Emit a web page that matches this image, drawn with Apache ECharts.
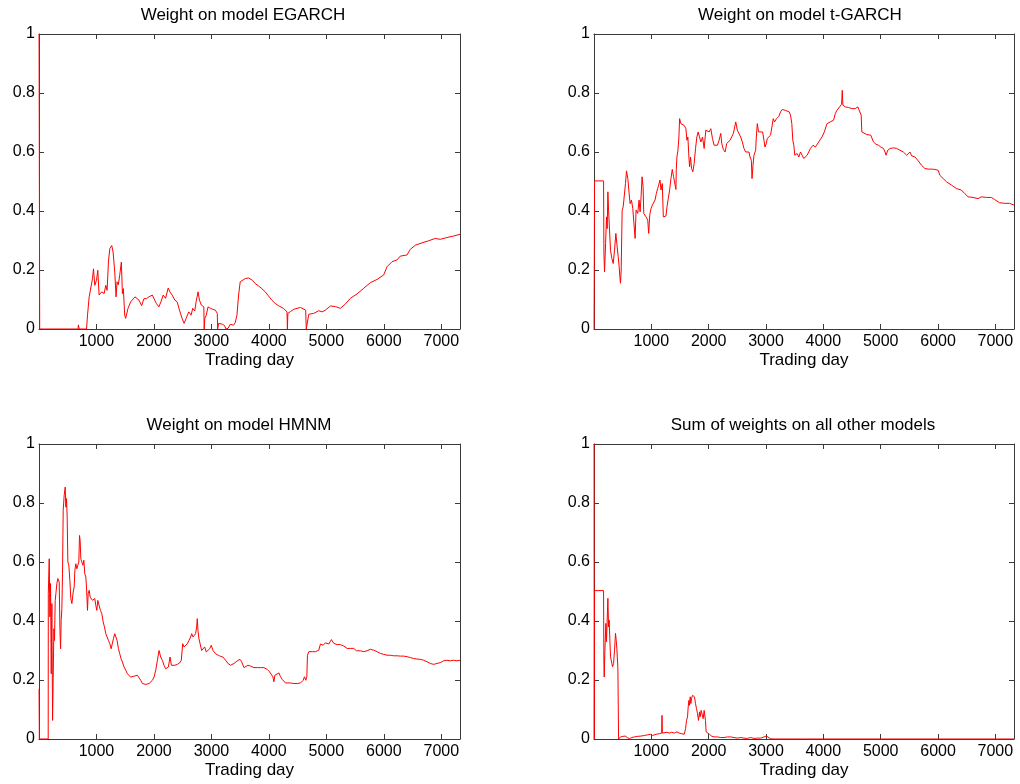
<!DOCTYPE html>
<html>
<head>
<meta charset="utf-8">
<script src="https://cdn.jsdelivr.net/npm/echarts@6/dist/echarts.min.js"></script>
<style>
  html, body { margin: 0; padding: 0; background: #ffffff; }
  #chart { width: 1020px; height: 784px; }
</style>
</head>
<body>
<div id="chart"></div>
<script>
// Panel titles and shared axis text
const panelTitles = [
  'Weight on model EGARCH',
  'Weight on model t-GARCH',
  'Weight on model HMNM',
  'Sum of weights on all other models'
];
const xAxisName = 'Trading day';
const lastDay = 7325;
const xTickStep = 1000;
const yTickStep = 0.2;

// Model weights as [trading day, weight]
const egarchWeight = [
  [1,1],[12,0],[680,0],[685,0.014],[695,0.014],[700,0],[827,0],[844,0.047],[873,0.109],[890,0.103],
  [931,0.171],[948,0.204],[971,0.148],[1000,0.165],[1023,0.199],[1046,0.115],[1092,0.126],[1133,0.12],
  [1162,0.148],[1185,0.131],[1208,0.227],[1231,0.272],[1266,0.283],[1289,0.261],[1318,0.193],[1341,0.109],
  [1358,0.16],[1380,0.15],[1404,0.182],[1433,0.227],[1451,0.12],[1468,0.137],[1491,0.047],[1508,0.036],
  [1549,0.07],[1595,0.092],[1670,0.109],[1739,0.098],[1786,0.079],[1826,0.103],[1872,0.103],[1913,0.109],
  [1971,0.115],[2000,0.109],[2040,0.087],[2086,0.075],[2121,0.092],[2161,0.115],[2202,0.104],[2248,0.139],
  [2277,0.126],[2317,0.115],[2363,0.098],[2404,0.092],[2444,0.064],[2490,0.036],[2525,0.019],[2560,0.036],
  [2606,0.058],[2646,0.047],[2675,0.07],[2710,0.061],[2733,0.092],[2768,0.126],[2791,0.098],[2825,0.081],
  [2868,0.075],[2874,0],[2885,0.036],[2910,0.047],[2941,0.075],[2982,0.07],[3022,0.067],[3068,0.064],
  [3102,0.053],[3108,0],[3126,0.019],[3160,0.016],[3195,0.016],[3230,0.011],[3253,0],[3288,0.002],
  [3328,0.016],[3357,0.022],[3386,0.013],[3415,0.022],[3444,0.047],[3473,0.115],[3501,0.16],[3530,0.165],
  [3588,0.171],[3646,0.173],[3675,0.174],[3715,0.165],[3761,0.154],[3819,0.146],[3877,0.137],[3935,0.126],
  [3993,0.112],[4050,0.098],[4108,0.087],[4166,0.079],[4253,0.07],[4315,0.058],[4322,0],[4330,0.053],
  [4375,0.059],[4433,0.067],[4549,0.073],[4640,0.064],[4650,0],[4665,0],[4694,0.05],[4780,0.053],
  [4868,0.062],[4925,0.058],[4984,0.064],[5070,0.078],[5157,0.076],[5244,0.07],[5331,0.085],[5418,0.104],
  [5534,0.119],[5650,0.138],[5765,0.157],[5881,0.168],[5997,0.183],[6055,0.211],[6142,0.228],[6228,0.234],
  [6286,0.247],[6402,0.251],[6460,0.27],[6547,0.284],[6663,0.292],[6779,0.299],[6894,0.307],[6981,0.304],
  [7097,0.31],[7213,0.315],[7325,0.321]
];

const tgarchWeight = [
  [1,0],[10,0.502],[167,0.502],[173,0.256],[184,0.194],[202,0.29],[219,0.38],[230,0.34],[242,0.465],
  [254,0.403],[271,0.335],[288,0.267],[312,0.239],[335,0.222],[358,0.267],[381,0.324],[404,0.279],
  [422,0.245],[439,0.211],[451,0.177],[462,0.155],[474,0.2],[491,0.403],[509,0.414],[532,0.42],[549,0.493],
  [567,0.536],[590,0.51],[613,0.459],[630,0.425],[653,0.437],[676,0.409],[700,0.403],[717,0.307],[734,0.403],
  [763,0.392],[786,0.437],[804,0.397],[821,0.448],[838,0.516],[856,0.482],[868,0.392],[890,0.386],[908,0.38],
  [937,0.369],[954,0.324],[972,0.386],[995,0.409],[1018,0.42],[1041,0.425],[1064,0.437],[1087,0.459],
  [1110,0.476],[1128,0.488],[1151,0.505],[1168,0.471],[1191,0.493],[1209,0.38],[1232,0.375],[1255,0.383],
  [1273,0.414],[1296,0.443],[1319,0.471],[1342,0.51],[1365,0.541],[1388,0.516],[1412,0.516],[1429,0.473],
  [1435,0.54],[1446,0.583],[1464,0.606],[1481,0.651],[1493,0.713],[1516,0.696],[1545,0.696],[1574,0.69],
  [1603,0.679],[1620,0.64],[1637,0.651],[1655,0.583],[1667,0.55],[1684,0.583],[1701,0.544],[1724,0.533],
  [1747,0.561],[1771,0.612],[1794,0.651],[1817,0.668],[1840,0.651],[1864,0.634],[1893,0.651],[1921,0.612],
  [1950,0.674],[1979,0.679],[2008,0.668],[2037,0.679],[2066,0.646],[2095,0.623],[2124,0.629],[2153,0.623],
  [2182,0.64],[2211,0.663],[2228,0.629],[2257,0.608],[2286,0.6],[2315,0.629],[2344,0.634],[2373,0.64],
  [2402,0.646],[2431,0.663],[2454,0.685],[2472,0.702],[2500,0.674],[2529,0.668],[2558,0.651],[2587,0.634],
  [2616,0.612],[2645,0.6],[2674,0.606],[2703,0.6],[2721,0.583],[2744,0.572],[2756,0.51],[2773,0.555],
  [2790,0.589],[2819,0.606],[2831,0.651],[2848,0.696],[2871,0.668],[2900,0.663],[2941,0.668],[2964,0.64],
  [2982,0.617],[3005,0.629],[3022,0.646],[3051,0.64],[3079,0.657],[3108,0.691],[3126,0.713],[3149,0.702],
  [3183,0.713],[3224,0.721],[3253,0.736],[3282,0.744],[3311,0.747],[3340,0.741],[3369,0.739],[3404,0.736],
  [3427,0.725],[3450,0.696],[3467,0.64],[3485,0.623],[3502,0.589],[3520,0.583],[3543,0.595],[3572,0.583],
  [3601,0.6],[3630,0.595],[3659,0.578],[3688,0.572],[3717,0.589],[3774,0.612],[3820,0.623],[3861,0.617],
  [3918,0.634],[3976,0.651],[4017,0.668],[4063,0.696],[4121,0.702],[4179,0.708],[4208,0.73],[4237,0.741],
  [4283,0.753],[4318,0.762],[4330,0.809],[4341,0.759],[4382,0.753],[4440,0.751],[4497,0.747],[4555,0.747],
  [4602,0.753],[4619,0.744],[4642,0.741],[4660,0.725],[4671,0.668],[4700,0.663],[4758,0.659],[4827,0.657],
  [4874,0.634],[4920,0.626],[4961,0.623],[5001,0.617],[5048,0.612],[5076,0.6],[5094,0.589],[5123,0.606],
  [5163,0.612],[5221,0.614],[5279,0.612],[5337,0.606],[5395,0.6],[5453,0.589],[5511,0.6],[5540,0.587],
  [5598,0.583],[5655,0.57],[5713,0.555],[5771,0.544],[5829,0.542],[5887,0.542],[5945,0.541],[6003,0.538],
  [6032,0.521],[6090,0.51],[6148,0.499],[6234,0.488],[6321,0.476],[6408,0.471],[6466,0.459],[6524,0.448],
  [6611,0.446],[6698,0.442],[6756,0.448],[6842,0.446],[6929,0.446],[6987,0.439],[7074,0.428],[7161,0.426],
  [7248,0.426],[7325,0.42]
];

const hmnmWeight = [
  [1,0.17],[6,0],[160,0],[162,0.493],[178,0.611],[189,0.414],[201,0.527],[213,0.221],[224,0.459],
  [236,0.063],[247,0.21],[259,0.374],[270,0.334],[282,0.47],[294,0.493],[311,0.527],[328,0.544],
  [352,0.532],[363,0.38],[375,0.306],[386,0.402],[398,0.442],[409,0.56],[421,0.775],[438,0.826],
  [456,0.854],[467,0.786],[479,0.815],[490,0.753],[502,0.6],[519,0.589],[537,0.538],[554,0.476],
  [572,0.459],[595,0.498],[612,0.515],[624,0.572],[641,0.594],[658,0.577],[676,0.589],[693,0.6],
  [705,0.69],[716,0.673],[728,0.611],[745,0.606],[763,0.589],[780,0.606],[797,0.56],[815,0.549],
  [826,0.515],[844,0.436],[855,0.493],[873,0.504],[890,0.481],[908,0.476],[931,0.47],[954,0.464],
  [971,0.476],[988,0.453],[1006,0.436],[1023,0.47],[1046,0.464],[1069,0.436],[1093,0.425],[1116,0.397],
  [1139,0.38],[1162,0.357],[1185,0.346],[1208,0.334],[1232,0.323],[1255,0.306],[1278,0.3],[1295,0.34],
  [1318,0.357],[1336,0.363],[1359,0.334],[1382,0.306],[1405,0.289],[1428,0.272],[1452,0.261],[1481,0.244],
  [1510,0.233],[1538,0.221],[1567,0.216],[1596,0.21],[1625,0.216],[1654,0.213],[1683,0.218],[1712,0.216],
  [1741,0.21],[1770,0.199],[1799,0.188],[1828,0.184],[1857,0.185],[1886,0.184],[1915,0.188],[1944,0.19],
  [1973,0.199],[2002,0.21],[2031,0.233],[2060,0.267],[2089,0.3],[2117,0.278],[2146,0.267],[2175,0.25],
  [2204,0.238],[2222,0.244],[2251,0.244],[2280,0.278],[2303,0.25],[2332,0.255],[2366,0.25],[2407,0.253],
  [2448,0.258],[2476,0.267],[2500,0.323],[2523,0.312],[2552,0.306],[2581,0.323],[2610,0.334],[2639,0.346],
  [2656,0.357],[2679,0.346],[2702,0.34],[2725,0.357],[2743,0.38],[2754,0.408],[2766,0.368],[2783,0.34],
  [2812,0.334],[2830,0.3],[2853,0.306],[2882,0.312],[2911,0.295],[2940,0.289],[2969,0.306],[2998,0.318],
  [3027,0.3],[3073,0.289],[3119,0.284],[3160,0.28],[3200,0.278],[3247,0.267],[3293,0.255],[3334,0.25],
  [3392,0.256],[3450,0.265],[3496,0.27],[3525,0.262],[3566,0.242],[3595,0.239],[3635,0.25],[3681,0.247],
  [3739,0.242],[3797,0.242],[3855,0.242],[3913,0.242],[3971,0.236],[4011,0.228],[4040,0.222],[4069,0.211],
  [4087,0.194],[4104,0.216],[4133,0.222],[4174,0.224],[4203,0.211],[4231,0.202],[4260,0.199],[4289,0.19],
  [4318,0.186],[4376,0.19],[4434,0.188],[4492,0.188],[4550,0.19],[4596,0.199],[4619,0.211],[4643,0.199],
  [4660,0.211],[4671,0.284],[4695,0.296],[4724,0.301],[4753,0.296],[4782,0.29],[4810,0.296],[4839,0.29],
  [4868,0.301],[4897,0.322],[4944,0.318],[4984,0.326],[5013,0.324],[5042,0.322],[5088,0.337],[5129,0.324],
  [5187,0.32],[5245,0.32],[5303,0.315],[5361,0.307],[5418,0.307],[5476,0.307],[5523,0.299],[5592,0.299],
  [5650,0.296],[5708,0.299],[5766,0.304],[5824,0.301],[5882,0.296],[5940,0.29],[5997,0.287],[6055,0.284],
  [6113,0.284],[6171,0.282],[6229,0.282],[6287,0.281],[6345,0.281],[6403,0.279],[6461,0.276],[6519,0.273],
  [6576,0.271],[6634,0.27],[6692,0.267],[6750,0.262],[6808,0.256],[6866,0.253],[6924,0.256],[6982,0.259],
  [7040,0.265],[7097,0.267],[7155,0.265],[7213,0.267],[7271,0.265],[7325,0.267]
];

const otherWeight = [
  [1,1],[4,0],[10,0.503],[167,0.503],[172,0.267],[178,0.21],[190,0.3],[207,0.392],[218,0.33],[230,0.403],
  [242,0.477],[254,0.38],[265,0.403],[277,0.335],[288,0.279],[306,0.273],[323,0.245],[341,0.256],
  [358,0.301],[375,0.358],[387,0.335],[398,0.307],[416,0.245],[427,0.239],[429,0],[462,0.007],[503,0.009],
  [543,0.01],[578,0.005],[619,0.001],[659,0.005],[705,0.007],[763,0.009],[821,0.01],[879,0.012],[937,0.014],
  [983,0.016],[1024,0.012],[1082,0.016],[1140,0.018],[1180,0.02],[1186,0.08],[1192,0.02],[1226,0.022],
  [1273,0.023],[1313,0.02],[1354,0.023],[1400,0.02],[1447,0.024],[1487,0.02],[1528,0.018],[1574,0.016],
  [1597,0.035],[1614,0.063],[1631,0.075],[1643,0.109],[1655,0.131],[1666,0.114],[1678,0.143],[1689,0.12],
  [1701,0.137],[1718,0.148],[1736,0.154],[1753,0.143],[1770,0.12],[1788,0.103],[1805,0.086],[1822,0.063],
  [1840,0.092],[1851,0.075],[1869,0.097],[1886,0.092],[1904,0.069],[1921,0.097],[1933,0.103],[1944,0.063],
  [1956,0.024],[1979,0.018],[2014,0.016],[2049,0.01],[2095,0.007],[2153,0.007],[2211,0.005],[2268,0.005],
  [2326,0.007],[2384,0.007],[2442,0.005],[2500,0.003],[2558,0.005],[2616,0.003],[2674,0.002],[2732,0.005],
  [2790,0.002],[2848,0.003],[2906,0.003],[2964,0.007],[3005,0.01],[3034,0.005],[3079,0.001],[3137,0],
  [3640,0],[3650,0.004],[3660,0],[7325,0]
];

const panelSeries = [egarchWeight, tgarchWeight, hmnmWeight, otherWeight];

// Layout of the 2x2 grid (pixels)
const panelBoxes = [
  { left: 39,  top: 34,  width: 421, height: 295, titleX: 243, titleTop: 7 },
  { left: 594, top: 34,  width: 420, height: 295, titleX: 800, titleTop: 7 },
  { left: 39,  top: 444, width: 421, height: 295, titleX: 239, titleTop: 417 },
  { left: 594, top: 444, width: 420, height: 295, titleX: 803, titleTop: 417 }
];

const FONT = '"Liberation Sans", Arial, Helvetica, sans-serif';
const AXIS_COLOR = '#3a3a3a';
const LINE_COLOR = '#ff0000';

const grids = [], xAxes = [], yAxes = [], series = [], titles = [];

panelBoxes.forEach((box, i) => {
  grids.push({ left: box.left, top: box.top, width: box.width, height: box.height, containLabel: false });

  titles.push({
    text: panelTitles[i],
    left: box.titleX,
    top: box.titleTop,
    textAlign: 'center',
    padding: 0,
    textStyle: { fontFamily: FONT, fontSize: 17, fontWeight: 'normal', color: '#000' }
  });

  const baseX = {
    type: 'value', gridIndex: i, min: 0, max: lastDay, interval: xTickStep,
    splitLine: { show: false },
    axisLine: { show: true, onZero: false, lineStyle: { color: AXIS_COLOR, width: 1 } },
    axisTick: { show: true, inside: true, length: 5, lineStyle: { color: AXIS_COLOR } }
  };
  xAxes.push(Object.assign({}, baseX, {
    position: 'bottom',
    name: xAxisName, nameLocation: 'middle', nameGap: 23,
    nameTextStyle: { fontFamily: FONT, fontSize: 17, color: '#000' },
    axisLabel: {
      show: true, margin: 5, fontFamily: FONT, fontSize: 16, color: '#000',
      showMinLabel: false, showMaxLabel: false,
      formatter: v => (v > 0 && v % xTickStep === 0) ? String(v) : ''
    }
  }));
  xAxes.push(Object.assign({}, baseX, { position: 'top', axisLabel: { show: false } }));

  const baseY = {
    type: 'value', gridIndex: i, min: 0, max: 1, interval: yTickStep,
    splitLine: { show: false },
    axisLine: { show: true, onZero: false, lineStyle: { color: AXIS_COLOR, width: 1 } },
    axisTick: { show: true, inside: true, length: 5, lineStyle: { color: AXIS_COLOR } }
  };
  yAxes.push(Object.assign({}, baseY, {
    position: 'left',
    axisLabel: { show: true, margin: 4, fontFamily: FONT, fontSize: 16, color: '#000' }
  }));
  yAxes.push(Object.assign({}, baseY, { position: 'right', axisLabel: { show: false } }));

  series.push({
    type: 'line',
    xAxisIndex: 2 * i,
    yAxisIndex: 2 * i,
    data: panelSeries[i],
    showSymbol: false,
    symbol: 'none',
    lineStyle: { color: LINE_COLOR, width: 1 },
    emphasis: { disabled: true },
    clip: true
  });
});

const chart = echarts.init(document.getElementById('chart'), null, { renderer: 'canvas' });
chart.setOption({
  animation: false,
  backgroundColor: '#ffffff',
  title: titles,
  grid: grids,
  xAxis: xAxes,
  yAxis: yAxes,
  series: series
});
</script>
</body>
</html>
